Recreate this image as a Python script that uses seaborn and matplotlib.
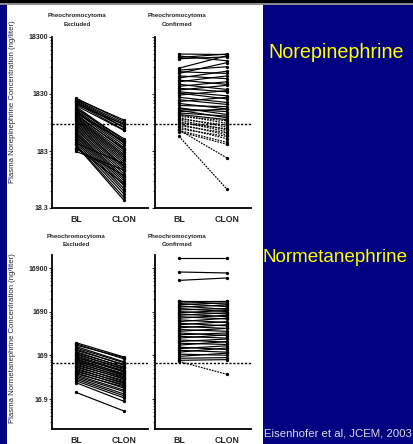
import numpy as np
import pandas as pd
import matplotlib
matplotlib.use("Agg")
import matplotlib.pyplot as plt
import seaborn as sns
from matplotlib.patches import Rectangle
from matplotlib.ticker import FixedLocator, NullFormatter

# ---------------- data ----------------
time_labels = ["BL", "CLON"]

# Norepinephrine, pheochromocytoma excluded
ne_excl_bl = [1550, 1500, 1450, 1400, 1350, 1300, 1250, 1200, 1150, 1100, 1050, 1000,
              960, 920, 880, 850, 820, 780, 750, 720, 690, 660, 630, 600, 570, 540,
              510, 480, 450, 430, 400, 380, 360, 340, 320, 300, 280, 260, 240, 230,
              210, 180, 200, 250]
ne_excl_clon = [600, 640, 560, 520, 480, 470, 430, 540, 420, 280, 260, 300,
                250, 230, 210, 270, 190, 200, 175, 160, 150, 140, 130, 120, 110, 100,
                95, 88, 80, 72, 65, 60, 55, 50, 45, 40, 36, 32, 28, 25,
                48, 85, 68, 110]

# Norepinephrine, pheochromocytoma confirmed (solid)
ne_conf_bl = [9200, 8500, 8000, 7600, 5200, 4800, 4500, 4200, 3800, 3500, 3200, 3000,
              2700, 2500, 2300, 2150, 2000, 1900, 1750, 1600, 1450, 1350, 1250, 1150,
              1050, 1000, 950, 900, 850, 800]
ne_conf_clon = [9000, 7000, 9200, 8200, 8600, 5500, 4200, 6500, 3400, 4600, 2700, 3800,
                2200, 3000, 2000, 2600, 1700, 1500, 2100, 1300, 1200, 1600, 1000, 1100,
                800, 900, 700, 1000, 750, 650]
# Norepinephrine, confirmed (dashed)
ne_conf_d_bl = [780, 740, 700, 670, 640, 600, 570, 540, 510, 480, 450, 420, 400, 430, 330]
ne_conf_d_clon = [560, 620, 480, 520, 430, 400, 450, 350, 380, 300, 330, 260, 240, 138, 39]

# Normetanephrine, pheochromocytoma excluded
nmn_excl_bl = [330, 310, 290, 270, 250, 235, 220, 205, 195, 185, 175, 165, 158, 150,
               143, 136, 130, 124, 118, 112, 106, 100, 95, 90, 85, 80, 76, 72, 68, 64,
               60, 56, 52, 48, 44, 40, 24]
nmn_excl_clon = [155, 140, 150, 120, 115, 100, 105, 90, 92, 80, 85, 75, 70, 72,
                 62, 65, 58, 60, 52, 55, 48, 50, 42, 45, 38, 40, 34, 36, 30, 32,
                 27, 25, 22, 20, 18, 15, 9]

# Normetanephrine, pheochromocytoma confirmed (solid)
nmn_conf_bl = [28600, 13700, 8800, 3000, 2950, 2800, 2600, 2450, 2300, 2150, 2000, 1850,
               1700, 1600, 1500, 1400, 1300, 1200, 1100, 1000, 920, 850, 780, 720, 660,
               600, 550, 500, 460, 420, 380, 350, 320, 290, 260, 240, 220, 200, 180,
               160, 145, 130]
nmn_conf_clon = [28600, 13000, 10000, 3000, 2500, 2900, 2200, 2700, 1900, 2400, 1700, 2000,
                 1500, 1800, 1300, 1600, 1150, 1400, 950, 1200, 800, 1000, 700, 850, 600,
                 700, 480, 550, 420, 500, 340, 400, 300, 350, 230, 280, 200, 250, 170,
                 190, 150, 135]
# Normetanephrine, confirmed (dashed)
nmn_conf_d_bl = [123]
nmn_conf_d_clon = [62]

ne_cutoff = 550
nmn_cutoff = 112

ne_ticks = [18.3, 183, 1830, 18300]
ne_ticklabels = ["18.3", "183", "1830", "18300"]
nmn_ticks = [16.9, 169, 1690, 16900]
nmn_ticklabels = ["16.9", "169", "1690", "16900"]


def long_df(bl, clon):
    n = len(bl)
    return pd.DataFrame({
        "subject": list(range(n)) * 2,
        "time": [0] * n + [1] * n,
        "value": list(bl) + list(clon),
    })


# ---------------- figure ----------------
W, H = 414, 444
sns.set_style("ticks")
plt.rcParams["font.family"] = ["Liberation Sans", "DejaVu Sans"]

fig = plt.figure(figsize=(W / 100, H / 100), dpi=100)
fig.patch.set_facecolor("#000080")


def frect(x0, y0, x1, y1, color):
    fig.patches.append(Rectangle((x0 / W, 1 - y1 / H), (x1 - x0) / W, (y1 - y0) / H,
                                 transform=fig.transFigure, facecolor=color,
                                 edgecolor="none", zorder=-10))


frect(0, 0, W, 3.2, "black")
frect(0, 3.2, W, 4.6, "#8a8a8a")
frect(7.5, 5.5, 263, H, "white")


def px_axes(x0, y0, x1, y1):
    return fig.add_axes([x0 / W, 1 - y1 / H, (x1 - x0) / W, (y1 - y0) / H])


def style_axis(ax, ylim, ticks, ticklabels, show_labels, cutoff):
    ax.set_facecolor("none")
    ax.set_yscale("log")
    ax.set_ylim(*ylim)
    ax.set_xlim(-0.5, 1.5)
    ax.yaxis.set_major_locator(FixedLocator(ticks))
    minors = [t * k for t in ticks[:-1] for k in range(2, 10)]
    minors += [ticks[-1] * k for k in range(2, 10) if ticks[-1] * k < ylim[1]]
    minors += [ticks[0] / 10 * k for k in range(2, 10) if ticks[0] / 10 * k > ylim[0]]
    ax.yaxis.set_minor_locator(FixedLocator(minors))
    ax.yaxis.set_minor_formatter(NullFormatter())
    if show_labels:
        ax.set_yticklabels(ticklabels, fontsize=5.0, fontweight="bold")
    else:
        ax.set_yticklabels([])
    ax.set_xticks([0, 1])
    ax.set_xticklabels(time_labels, fontsize=6.3, fontweight="bold")
    ax.tick_params(axis="y", which="major", length=2.2, width=0.8, pad=0.6)
    ax.tick_params(axis="y", which="minor", length=1.4, width=0.6)
    ax.tick_params(axis="x", length=0, pad=5)
    for s in ["top", "right"]:
        ax.spines[s].set_visible(False)
    for s in ["left", "bottom"]:
        ax.spines[s].set_linewidth(1.3)
        ax.spines[s].set_color("black")
    ax.axhline(cutoff, color="black", lw=1.0, ls=(0, (1.6, 1.2)), zorder=1)
    ax.set_xlabel("")
    ax.set_ylabel("")


def draw(ax, bl, clon, dashed=False):
    df = long_df(bl, clon)
    kw = dict(color="black", lw=0.85, marker="o", markersize=2.4, markeredgewidth=0)
    if dashed:
        kw["linestyle"] = (0, (1.5, 0.9))
    sns.lineplot(data=df, x="time", y="value", units="subject", estimator=None,
                 ax=ax, legend=False, zorder=3, **kw)


ne_ylim = (18.3, 18300)
nmn_ylim = (3.48, 33550)

ax1 = px_axes(52, 37, 148, 208)
draw(ax1, ne_excl_bl, ne_excl_clon)
style_axis(ax1, ne_ylim, ne_ticks, ne_ticklabels, True, ne_cutoff)

ax2 = px_axes(155, 37, 251, 208)
draw(ax2, ne_conf_bl, ne_conf_clon)
draw(ax2, ne_conf_d_bl, ne_conf_d_clon, dashed=True)
style_axis(ax2, ne_ylim, ne_ticks, ne_ticklabels, False, ne_cutoff)

ax3 = px_axes(52, 255, 148, 429)
draw(ax3, nmn_excl_bl, nmn_excl_clon)
style_axis(ax3, nmn_ylim, nmn_ticks, nmn_ticklabels, True, nmn_cutoff)

ax4 = px_axes(155, 255, 251, 429)
draw(ax4, nmn_conf_bl, nmn_conf_clon)
draw(ax4, nmn_conf_d_bl, nmn_conf_d_clon, dashed=True)
style_axis(ax4, nmn_ylim, nmn_ticks, nmn_ticklabels, False, nmn_cutoff)


def ftext(x, y, s, **kw):
    fig.text(x / W, 1 - y / H, s, **kw)


tkw = dict(fontsize=4.4, fontweight="bold", ha="center", va="center")
for (x, y1, y2, second) in [(77, 15.5, 24.5, "Excluded"), (177, 15.5, 24.5, "Confirmed"),
                            (76, 236.5, 244.5, "Excluded"), (177, 236.5, 244.5, "Confirmed")]:
    ftext(x, y1, "Pheochromocytoma", **tkw)
    ftext(x, y2, second, **tkw)

ftext(13, 102, "Plasma Norepinephrine Concentration (ng/liter)", rotation=90,
      fontsize=5.6, ha="center", va="center")
ftext(13, 338, "Plasma Normetanephrine Concentration (ng/liter)", rotation=90,
      fontsize=5.6, ha="center", va="center")

ftext(268, 53, "Norepinephrine", color="#ffff00", fontsize=14.2, ha="left", va="center")
ftext(263, 258, "Normetanephrine", color="#ffff00", fontsize=13.6, ha="left", va="center")
ftext(264, 433, "Eisenhofer et al, JCEM, 2003", color="#dcdcdc", fontsize=8.2,
      ha="left", va="center")

fig.savefig("out.png", dpi=100, facecolor=fig.get_facecolor())
